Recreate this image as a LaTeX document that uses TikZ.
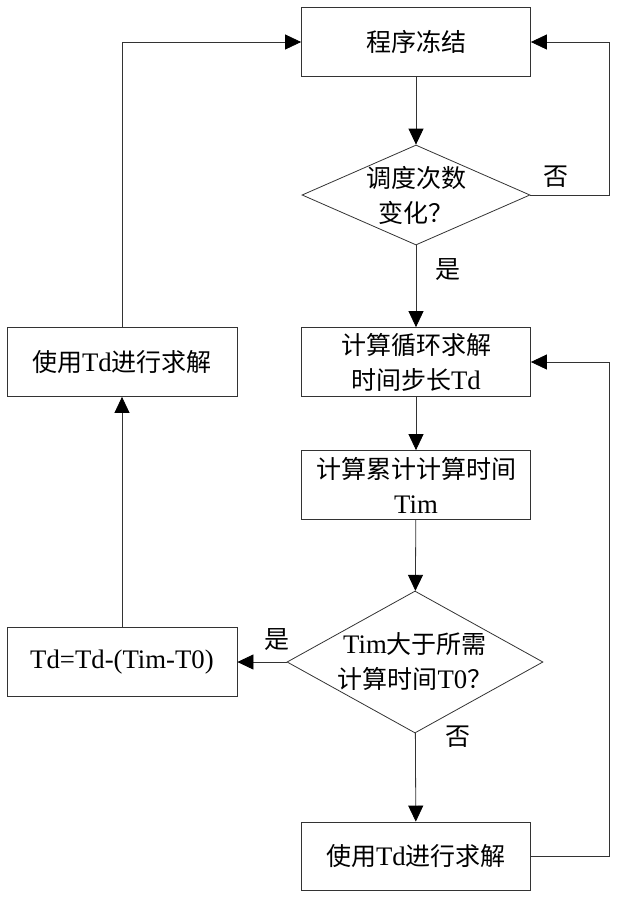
\documentclass[tikz,border=0pt]{standalone}
\usepackage{fontspec}
\setmainfont{Liberation Serif}[Scale=1.07]
\newfontfamily\cjk{Noto Sans CJK SC}
\usetikzlibrary{shapes.geometric,arrows.meta}
\newcommand\zh[1]{{\cjk #1}}
\begin{document}
\begin{tikzpicture}[x=1pt,y=-1pt,line width=0.8pt,
font=\fontsize{25}{35}\selectfont,
box/.style={draw=black!80, rectangle, minimum width=229pt, minimum height=69pt, align=center, inner sep=0pt},
decision/.style={draw=black!80, diamond, align=center, inner sep=-6pt},
flow/.style={draw=black!80, -{Triangle[length=16pt,width=15pt,fill=black,color=black]}}]
\useasboundingbox (0,0) rectangle (620,898);
\coordinate (east) at (609,0);

\node[box] (freeze) at (416,42) {\zh{程序冻结}};
\node[decision, aspect=2.28, minimum width=228pt, minimum height=100pt] (change) at (416,195) {\zh{调度次数}\\\zh{变化？}};
\node[box] (tstep) at (416,362) {\zh{计算循环求解}\\\zh{时间步长}Td};
\node[box] (total) at (416,485) {\zh{计算累计计算时间}\\Tim};
\node[decision, aspect=1.8, minimum width=256pt, minimum height=142pt] (over) at (415,662) {Tim\zh{大于所需}\\\zh{计算时间}T0\zh{？}};
\node[box, minimum height=68pt] (solve) at (416,856) {\zh{使用}Td\zh{进行求解}};
\node[box, minimum width=230pt] (adjust) at (122,662) {Td=Td-(Tim-T0)};
\node[box, minimum width=230pt] (resolve) at (122,362) {\zh{使用}Td\zh{进行求解}};

\node (no1) at (556,177) {\zh{否}};
\node (yes1) at (448,270) {\zh{是}};
\node (yes2) at (277,640) {\zh{是}};
\node (no2) at (458,737) {\zh{否}};

\draw[flow] (freeze) -- (change);
\draw[flow] (change) -- (tstep);
\draw[flow] (tstep) -- (total);
\draw[flow] (total) -- (over);
\draw[flow] (over) -- (solve);
\draw[flow] (over) -- (adjust);
\draw[flow] (adjust) -- (resolve);
\draw[flow] (resolve.north) |- (freeze.west);
\draw[flow] (change.east) -- (change.east -| east) |- (freeze.east);
\draw[flow] (solve.east) -- (solve.east -| east) |- (tstep.east);
\end{tikzpicture}
\end{document}
